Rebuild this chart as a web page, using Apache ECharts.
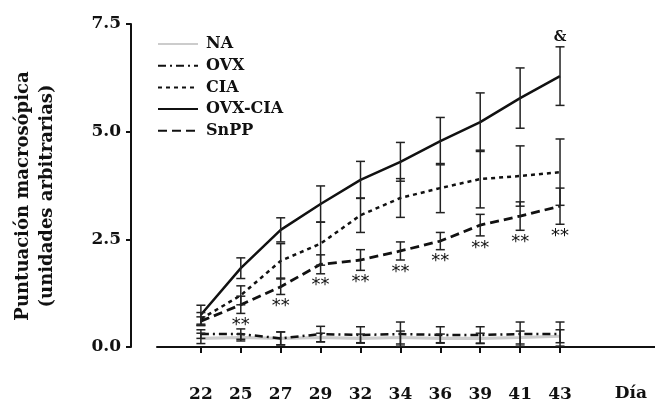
<!DOCTYPE html>
<html>
<head>
<meta charset="utf-8">
<title>Puntuación macroscópica</title>
<script src="https://cdn.jsdelivr.net/npm/echarts@6/dist/echarts.min.js"></script>
<style>
html, body { margin: 0; padding: 0; background: #fff; }
#main { width: 655px; height: 406px; }
</style>
</head>
<body>
<div id="main"></div>
<script>
// dias del experimento
var days = ['22', '25', '27', '29', '32', '34', '36', '39', '41', '43'];

// medias y errores
var na        = [0.20, 0.22, 0.20, 0.22, 0.20, 0.22, 0.20, 0.20, 0.22, 0.25];
var naErr     = [0.12, 0.08, 0.15, 0.10, 0.10, 0.15, 0.10, 0.12, 0.15, 0.15];
var ovx       = [0.30, 0.30, 0.20, 0.30, 0.28, 0.30, 0.28, 0.28, 0.30, 0.30];
var ovxErr    = [0.10, 0.12, 0.15, 0.18, 0.19, 0.28, 0.19, 0.19, 0.28, 0.28];
var cia       = [0.65, 1.20, 2.00, 2.40, 3.06, 3.46, 3.69, 3.90, 3.97, 4.06];
var ciaErr    = [0.15, 0.22, 0.40, 0.50, 0.40, 0.45, 0.57, 0.67, 0.70, 0.77];
var ovxCia    = [0.75, 1.83, 2.72, 3.32, 3.88, 4.30, 4.78, 5.22, 5.78, 6.29];
var ovxCiaErr = [0.22, 0.24, 0.28, 0.42, 0.43, 0.45, 0.55, 0.68, 0.70, 0.68];
var snpp      = [0.60, 0.98, 1.40, 1.92, 2.02, 2.23, 2.46, 2.83, 3.04, 3.27];
var snppErr   = [0.10, 0.20, 0.18, 0.22, 0.24, 0.21, 0.20, 0.25, 0.33, 0.42];

// marcas de significancia
var snppSig   = ['', '**', '**', '**', '**', '**', '**', '**', '**', '**'];
var ovxCiaSig = ['', '', '', '', '', '', '', '', '', '&'];

var serif = '"DejaVu Serif"';
var chart = echarts.init(document.getElementById('main'));

function lineSeries(name, data, color, width, dash, z)
{
	return {
		name: name,
		type: 'line',
		data: data.map(function(v, i){ return [i, v]; }),
		symbol: 'none',
		z: z,
		itemStyle: { color: color },
		lineStyle: { color: color, width: width, type: dash }
	};
}

// barras de error (+ texto debajo / encima)
function errSeries(key, mean, err, below, above)
{
	return {
		name: key + '-err',
		type: 'custom',
		silent: true,
		clip: false,
		z: 5,
		data: mean.map(function(v, i){ return [i, v, err[i]]; }),
		renderItem: function(params, api){
			var idx = params.dataIndex;
			var x = api.value(0), m = api.value(1), e = api.value(2);
			var top = api.coord([x, m + e]);
			var bot = api.coord([x, m - e]);
			var hw = 4.5;
			var st = { stroke: '#222', lineWidth: 1.5 };
			var children = [
				{ type: 'line', shape: { x1: top[0], y1: top[1], x2: bot[0], y2: bot[1] }, style: st },
				{ type: 'line', shape: { x1: top[0] - hw, y1: top[1], x2: top[0] + hw, y2: top[1] }, style: st },
				{ type: 'line', shape: { x1: bot[0] - hw, y1: bot[1], x2: bot[0] + hw, y2: bot[1] }, style: st }
			];
			if (below && below[idx])
			{
				children.push({ type: 'text', x: bot[0], y: bot[1] + 12,
					style: { text: below[idx], align: 'center', verticalAlign: 'middle',
						font: '18px "DejaVu Sans"', fill: '#111' } });
			}
			if (above && above[idx])
			{
				children.push({ type: 'text', x: top[0], y: top[1] - 2,
					style: { text: above[idx], align: 'center', verticalAlign: 'bottom',
						font: 'bold 14px ' + serif, fill: '#111' } });
			}
			return { type: 'group', children: children };
		}
	};
}

var option = {
	animation: false,
	backgroundColor: '#fff',
	grid: { left: 157, right: 0, top: 24, bottom: 59 },
	legend: {
		orient: 'vertical',
		left: 157,
		top: 36,
		padding: 0,
		itemWidth: 40,
		itemHeight: 16,
		itemGap: 5.7,
		itemStyle: { opacity: 0 },
		data: ['NA', 'OVX', 'CIA', 'OVX-CIA', 'SnPP'],
		textStyle: { fontFamily: serif, fontWeight: 'bold', fontSize: 16, color: '#111', lineHeight: 16, padding: [0, 0, 0, 3] }
	},
	xAxis: {
		type: 'value',
		min: -1.1,
		max: 11.38,
		offset: 27,
		name: 'Día',
		nameLocation: 'end',
		nameGap: -8,
		nameTextStyle: { fontFamily: serif, fontWeight: 'bold', fontSize: 17, color: '#111',
			align: 'right', verticalAlign: 'top', padding: [38, 0, 0, 0] },
		splitLine: { show: false },
		axisLine: { show: true, lineStyle: { color: '#111', width: 2 } },
		axisTick: { show: true, length: 6, lineStyle: { color: '#111', width: 2 },
			customValues: [0, 1, 2, 3, 4, 5, 6, 7, 8, 9] },
		axisLabel: {
			customValues: [0, 1, 2, 3, 4, 5, 6, 7, 8, 9],
			formatter: function(v){ return days[Math.round(v)]; },
			margin: 12,
			fontFamily: serif, fontWeight: 'bold', fontSize: 17, color: '#111'
		}
	},
	yAxis: {
		type: 'value',
		min: 0,
		max: 7.5,
		interval: 2.5,
		offset: 26,
		splitLine: { show: false },
		axisLine: { show: true, onZero: false, lineStyle: { color: '#111', width: 2 } },
		axisTick: { show: true, length: 5, lineStyle: { color: '#111', width: 2 } },
		axisLabel: {
			formatter: function(v){ return v.toFixed(1); },
			margin: 10,
			fontFamily: serif, fontWeight: 'bold', fontSize: 17, color: '#111'
		}
	},
	graphic: [{
		type: 'text',
		x: 35,
		y: 196,
		rotation: Math.PI / 2,
		style: {
			text: 'Puntuación macrosópica\n(unidades arbitrarias)',
			align: 'center',
			verticalAlign: 'middle',
			lineHeight: 24,
			font: 'bold 18px ' + serif,
			fill: '#111'
		}
	}],
	series: [
		lineSeries('NA', na, '#cccccc', 3.2, 'solid', 1),
		lineSeries('OVX', ovx, '#111', 2.5, [8, 4, 2, 4], 2),
		lineSeries('CIA', cia, '#111', 2.5, [4, 4], 2),
		lineSeries('OVX-CIA', ovxCia, '#111', 2.5, 'solid', 2),
		lineSeries('SnPP', snpp, '#111', 2.8, [9, 5], 2),
		errSeries('NA', na, naErr),
		errSeries('OVX', ovx, ovxErr),
		errSeries('CIA', cia, ciaErr),
		errSeries('OVX-CIA', ovxCia, ovxCiaErr, null, ovxCiaSig),
		errSeries('SnPP', snpp, snppErr, snppSig)
	]
};
chart.setOption(option);
</script>
</body>
</html>
